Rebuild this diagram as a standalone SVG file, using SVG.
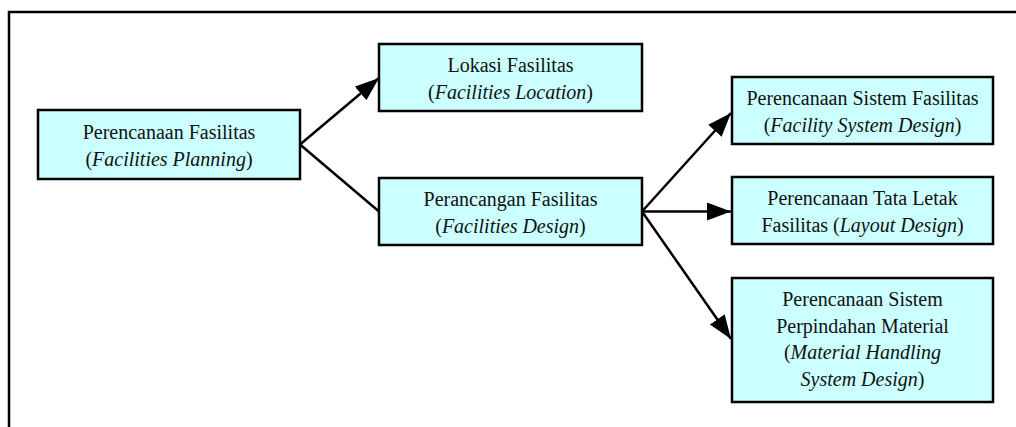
<svg xmlns="http://www.w3.org/2000/svg" width="1016" height="427" viewBox="0 0 1016 427">
<style>
.box{fill:#CCFFFF;stroke:#000;stroke-width:2.5}
.t{font-family:"Liberation Serif","Times New Roman",serif;font-size:20px;fill:#111;text-anchor:middle}
.i{font-style:italic}
.c{stroke:#000;stroke-width:2.5;fill:none}
.frame{stroke:#000;stroke-width:2.5;fill:none}
</style>
<defs>
<marker id="ah" markerUnits="userSpaceOnUse" markerWidth="26" markerHeight="20" refX="24" refY="9" orient="auto">
<path d="M0,0 L24,9 L0,18 z" fill="#000"/>
</marker>
</defs>
<path class="frame" d="M9,427 L9,12 L1016,12"/>
<g id="connectors">
<line class="c" x1="300" y1="144.5" x2="379" y2="78" marker-end="url(#ah)"/>
<line class="c" x1="300" y1="144.5" x2="379" y2="211.5"/>
<line class="c" x1="642" y1="211.5" x2="731" y2="113" marker-end="url(#ah)"/>
<line class="c" x1="642" y1="211.5" x2="731" y2="211.5" marker-end="url(#ah)"/>
<line class="c" x1="642" y1="211.5" x2="731" y2="339" marker-end="url(#ah)"/>
</g>
<g id="n1">
<rect class="box" x="38" y="110" width="262" height="69"/>
<text class="t" x="169" y="139">Perencanaan Fasilitas</text>
<text class="t" x="169" y="165.5">(<tspan class="i">Facilities Planning</tspan>)</text>
</g>
<g id="n2">
<rect class="box" x="379" y="44" width="263" height="67"/>
<text class="t" x="510.5" y="72">Lokasi Fasilitas</text>
<text class="t" x="510.5" y="98.5">(<tspan class="i">Facilities Location</tspan>)</text>
</g>
<g id="n3">
<rect class="box" x="379" y="178" width="263" height="67"/>
<text class="t" x="510.5" y="206">Perancangan Fasilitas</text>
<text class="t" x="510.5" y="232.5">(<tspan class="i">Facilities Design</tspan>)</text>
</g>
<g id="n4">
<rect class="box" x="732" y="77" width="261" height="67"/>
<text class="t" x="862.5" y="105">Perencanaan Sistem Fasilitas</text>
<text class="t" x="862.5" y="131.5">(<tspan class="i">Facility System Design</tspan>)</text>
</g>
<g id="n5">
<rect class="box" x="732" y="177" width="261" height="67"/>
<text class="t" x="862.5" y="205">Perencanaan Tata Letak</text>
<text class="t" x="862.5" y="231.5">Fasilitas (<tspan class="i">Layout Design</tspan>)</text>
</g>
<g id="n6">
<rect class="box" x="732" y="278" width="261" height="124"/>
<text class="t" x="862.5" y="306">Perencanaan Sistem</text>
<text class="t" x="862.5" y="332.7">Perpindahan Material</text>
<text class="t" x="862.5" y="359.4">(<tspan class="i">Material Handling</tspan></text>
<text class="t" x="862.5" y="386"><tspan class="i">System Design</tspan>)</text>
</g>
</svg>
